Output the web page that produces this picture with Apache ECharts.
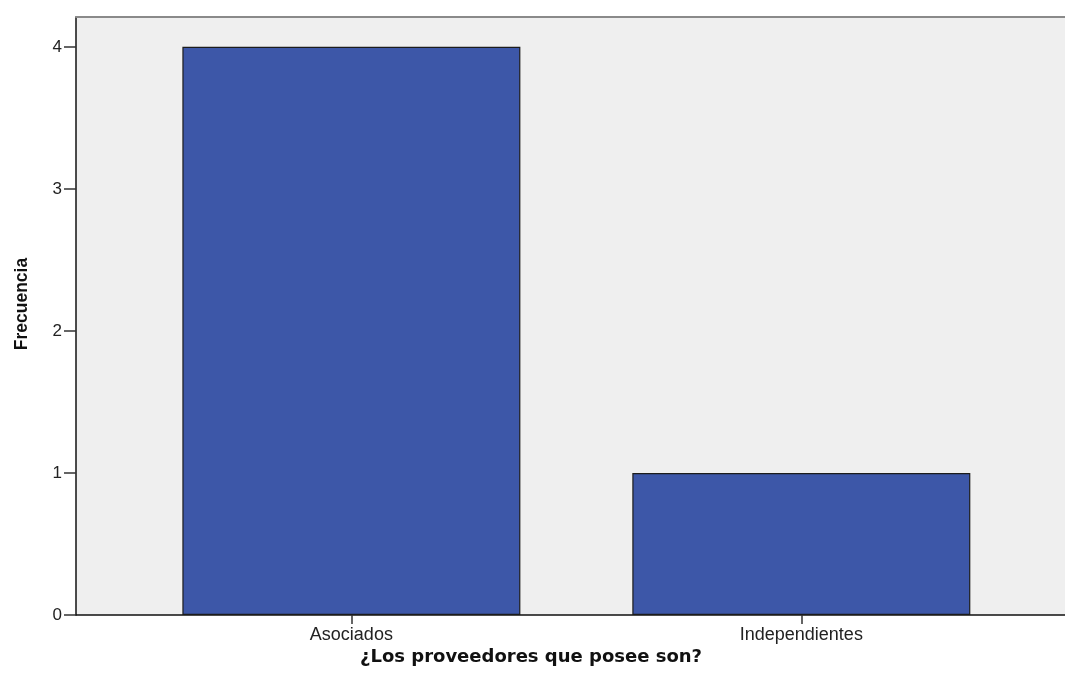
<!DOCTYPE html>
<html>
<head>
<meta charset="utf-8">
<script src="https://cdn.jsdelivr.net/npm/echarts@6/dist/echarts.min.js"></script>
<style>html,body{margin:0;padding:0;background:#fff}#c{width:1065px;height:681px}</style>
</head>
<body>
<div id="c"></div>
<script>
const categories = ['Asociados', 'Independientes'];
const frecuencia = [4, 1];
const xTitle = '¿Los proveedores que posee son?';
const yTitle = 'Frecuencia';

const positions = categories.map((c, i) => i);
const chart = echarts.init(document.getElementById('c'));
chart.setOption({
  animation: false,
  backgroundColor: '#ffffff',
  grid: {
    left: 76, right: 0, top: 17, bottom: 66,
    show: true, backgroundColor: '#efefef', borderWidth: 0
  },
  xAxis: [{
    type: 'value',
    min: -0.612, max: 1.586,
    axisLine: { show: true, onZero: false, lineStyle: { color: '#111', width: 1.5 } },
    axisTick: { show: true, length: 9, customValues: positions, lineStyle: { color: '#333', width: 1.5 } },
    axisLabel: {
      customValues: positions,
      formatter: v => categories[Math.round(v)] || '',
      color: '#222', fontFamily: 'Liberation Sans, Arial', fontSize: 18, margin: 11
    },
    splitLine: { show: false }
  }, {
    type: 'value', position: 'top',
    min: -0.612, max: 1.586,
    axisLine: { show: true, onZero: false, lineStyle: { color: '#8a8a8a', width: 2 } },
    axisTick: { show: false }, axisLabel: { show: false }, splitLine: { show: false }
  }],
  yAxis: {
    type: 'value',
    min: 0, max: 4.21, interval: 1,
    axisLine: { show: true, onZero: false, lineStyle: { color: '#111', width: 1.5 } },
    axisTick: { show: true, length: 12, lineStyle: { color: '#333', width: 1.5 } },
    axisLabel: {
      color: '#222', fontFamily: 'Liberation Sans, Arial', fontSize: 17, margin: 14,
      showMaxLabel: false
    },
    splitLine: { show: false }
  },
  graphic: [{
    type: 'text', x: 22, y: 304, rotation: Math.PI / 2,
    style: {
      text: yTitle, textAlign: 'center', textVerticalAlign: 'middle',
      font: 'bold 17.5px "Liberation Sans", Arial', fill: '#111'
    }
  }, {
    type: 'text', x: 531, y: 657,
    style: {
      text: xTitle, textAlign: 'center', textVerticalAlign: 'middle',
      font: 'bold 18px "DejaVu Sans"', fill: '#111'
    }
  }],
  series: [{
    type: 'bar',
    barWidth: 338,
    data: frecuencia.map((v, i) => [positions[i], v]),
    itemStyle: { color: '#3d57a8', borderColor: '#1c1c1c', borderWidth: 1.2 }
  }]
});
</script>
</body>
</html>
